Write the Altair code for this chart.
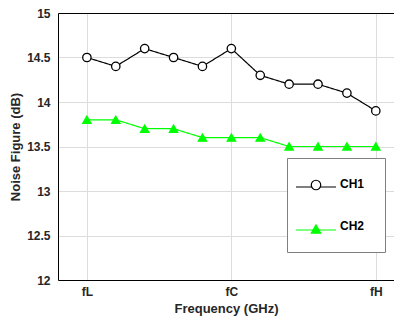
import altair as alt
import pandas as pd

x_index = [0, 1, 2, 3, 4, 5, 6, 7, 8, 9, 10]
ch1 = [14.5, 14.4, 14.6, 14.5, 14.4, 14.6, 14.3, 14.2, 14.2, 14.1, 13.9]
ch2 = [13.8, 13.8, 13.7, 13.7, 13.6, 13.6, 13.6, 13.5, 13.5, 13.5, 13.5]
series_names = ["CH1", "CH2"]
tick_pos = [0, 5, 10]
tick_labels = ["fL", "fC", "fH"]
y_ticks = [12, 12.5, 13, 13.5, 14, 14.5, 15]

rows = []
for name, vals in zip(series_names, [ch1, ch2]):
    for i, v in zip(x_index, vals):
        rows.append({"idx": i, "nf": v, "series": name, "series2": name, "series3": name})
df = pd.DataFrame(rows)

label_expr = " : ".join(f"datum.value == {p} ? '{l}'" for p, l in zip(tick_pos, tick_labels)) + " : ''"

FONT = "Liberation Sans"
TXT = "#262626"
GREEN = "#00ff00"

xscale = alt.Scale(domain=[-1, 10.63], nice=False, zero=False)
yscale = alt.Scale(domain=[12, 15], nice=False, zero=False)

# legend box with the labels
box_legend = alt.Legend(orient="none", legendX=229, legendY=145, title=None, zindex=1,
                        symbolType="circle", symbolSize=4, symbolOpacity=0,
                        labelFont=FONT, labelFontWeight="bold", labelFontSize=12,
                        labelColor="#000000", labelOffset=21, padding=20, rowPadding=30,
                        fillColor="white", strokeColor="#7f7f7f")
# line samples
line_legend = alt.Legend(orient="none", legendX=229, legendY=145, title=None, zindex=2,
                         symbolType="stroke", symbolSize=1600, symbolStrokeWidth=1.2,
                         labelExpr="''", labelFontSize=12, padding=8, rowPadding=16)
# marker samples
mk_legend = alt.Legend(orient="none", legendX=244, legendY=158, title=None, zindex=3,
                       symbolSize=90, symbolStrokeWidth=1.2,
                       labelExpr="''", labelFontSize=12,
                       padding=8, rowPadding=29)

lines = alt.Chart(df).mark_line(strokeWidth=1.2).encode(
    x=alt.X("idx:Q", scale=xscale,
            axis=alt.Axis(values=tick_pos, labelExpr=label_expr, title="Frequency (GHz)",
                          grid=True, ticks=False, tickSize=0, labelPadding=6, titlePadding=5)),
    y=alt.Y("nf:Q", scale=yscale,
            axis=alt.Axis(values=y_ticks, format="~g", title="Noise Figure (dB)",
                          grid=True, ticks=False, tickSize=0, labelPadding=8, titlePadding=4)),
    color=alt.Color("series:N", scale=alt.Scale(range=["#000000", GREEN]), legend=line_legend),
    strokeDash=alt.StrokeDash("series3:N", scale=alt.Scale(range=[[1, 0], [1, 0]]), legend=box_legend),
)

points = alt.Chart(df).mark_point(size=70, strokeWidth=1.3, opacity=1).encode(
    x=alt.X("idx:Q", scale=xscale,
            axis=alt.Axis(orient="top", labels=False, ticks=False, grid=False, title=None,
                          domainColor="#000000")),
    y=alt.Y("nf:Q", scale=yscale),
    shape=alt.Shape("series2:N", scale=alt.Scale(domain=series_names, range=["circle", "triangle-up"]),
                    legend=mk_legend),
    fill=alt.Fill("series2:N", scale=alt.Scale(domain=series_names, range=["#ffffff", GREEN]),
                  legend=mk_legend),
    stroke=alt.Stroke("series2:N", scale=alt.Scale(domain=series_names, range=["#000000", GREEN]),
                      legend=mk_legend),
)

chart = alt.layer(lines, points).resolve_axis(x="independent").properties(
    width=336, height=267, autosize="none",
    padding={"left": 50, "top": 5, "right": 0, "bottom": 36},
).configure_view(stroke=None).configure_axis(
    labelFont=FONT, labelFontWeight="bold", labelFontSize=12, labelColor=TXT,
    titleFont=FONT, titleFontWeight="bold", titleFontSize=13, titleColor=TXT,
    domainColor="#000000", domainWidth=1, gridColor="#dcdcdc", gridWidth=1,
)

chart.save("out.html", embed_options={"renderer": "svg", "actions": False})
